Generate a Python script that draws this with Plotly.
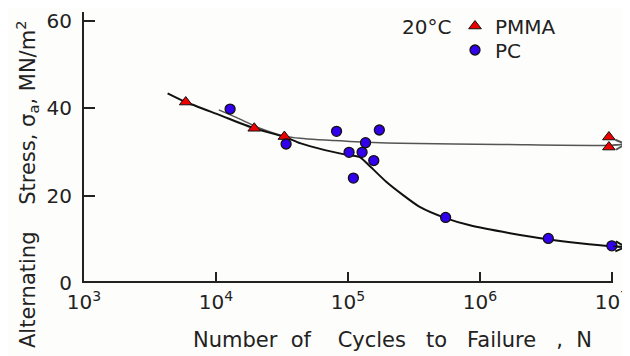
import plotly.graph_objects as go
import math

# ---- data ----
PMMA_N = [5.9e3, 1.95e4, 3.3e4, 9.5e6, 9.5e6]
PMMA_S = [41.4, 35.4, 33.5, 33.4, 31.1]

PC_N = [1.28e4, 3.4e4, 8.2e4, 1.02e5, 1.10e5, 1.28e5, 1.36e5, 1.57e5, 1.73e5, 5.5e5, 3.3e6, 1.0e7]
PC_S = [39.8, 31.8, 34.7, 29.9, 24.0, 29.9, 32.1, 28.0, 35.0, 15.0, 10.2, 8.5]

PC_CURVE_N = [4.3e3, 5.9e3, 1.07e4, 1.94e4, 3.33e4, 4.33e4, 6.7e4, 1.035e5, 1.23e5, 1.47e5,
              1.96e5, 2.62e5, 3.5e5, 5.43e5, 8.4e5, 1.69e6, 3.27e6, 5.73e6, 1.0e7, 1.32e7]
PC_CURVE_S = [43.4, 41.4, 38.4, 35.4, 33.4, 32.0, 30.4, 29.2, 28.8, 26.7,
              23.1, 20.1, 17.4, 14.9, 13.2, 11.4, 10.0, 9.1, 8.4, 8.2]

PMMA_CURVE_N = [1.05e4, 1.52e4, 2.15e4, 3.33e4, 4.33e4, 1.035e5, 2.48e5, 1.42e6, 1.0e7, 1.32e7]
PMMA_CURVE_S = [39.6, 37.5, 35.4, 33.6, 33.1, 32.4, 32.0, 31.7, 31.5, 31.8]

X_TICKS = [1e3, 1e4, 1e5, 1e6, 1e7]
X_TICK_TEXT = ["10<sup>3</sup>", "10<sup>4</sup>", "10<sup>5</sup>", "10<sup>6</sup>", "10<sup>7</sup>"]
Y_TICKS = [0, 20, 40, 60]

FONT = "DejaVu Sans"
INK = "#222222"
NB = "\u00a0"

# page body has an 8px offset, so the figure is 8px smaller and margins shifted
L, T, B, R = 76, 4, 73, 1
PW = 545.0   # plot width in px
PH = 271.0   # plot height in px
X0, Y0 = 84.0, 283.0  # page position of plot's left / bottom edge

def px(xp):
    return (xp - X0) / PW

def py(yp):
    return (Y0 - yp) / PH

fig = go.Figure()

# bottom axis line, spanning 10^3 .. 10^7 only (half of it is clipped at the plot edge)
fig.add_trace(go.Scatter(x=[X_TICKS[0], X_TICKS[-1]], y=[Y_TICKS[0], Y_TICKS[0]], mode="lines",
                         line=dict(color=INK, width=4), showlegend=False, hoverinfo="skip"))

fig.add_trace(go.Scatter(x=PMMA_CURVE_N, y=PMMA_CURVE_S, mode="lines",
                         line=dict(color="#555555", width=1.5, shape="spline", smoothing=0.8),
                         showlegend=False, hoverinfo="skip"))
fig.add_trace(go.Scatter(x=PC_CURVE_N, y=PC_CURVE_S, mode="lines",
                         line=dict(color="#111111", width=2, shape="spline", smoothing=0.6),
                         showlegend=False, hoverinfo="skip"))

fig.add_trace(go.Scatter(x=PMMA_N, y=PMMA_S, mode="markers", name="PMMA", legend="legend",
                         marker=dict(symbol="triangle-up", size=11, color="#ee0000",
                                     line=dict(color="#111111", width=1))))
fig.add_trace(go.Scatter(x=PC_N, y=PC_S, mode="markers", name="PC", legend="legend2",
                         marker=dict(symbol="circle", size=10, color="#3300ee",
                                     line=dict(color="#111111", width=1.3))))

# arrow heads at the curve ends
for cx, cy, col, tilt in [(PC_CURVE_N, PC_CURVE_S, "#111111", -1), (PMMA_CURVE_N, PMMA_CURVE_S, "#555555", 1)]:
    fig.add_annotation(x=math.log10(cx[-1]), y=cy[-1], ax=-16, ay=tilt,
                       xref="x", yref="y", text="",
                       showarrow=True, arrowhead=5, arrowsize=1.4, arrowwidth=1.4, arrowcolor=col)

fig.add_annotation(text="20°C", x=px(426), y=py(26.5), xref="paper", yref="paper",
                   xanchor="center", yanchor="middle",
                   showarrow=False, font=dict(family=FONT, size=20, color=INK))

xtitle = ("Number" + NB * 2 + "of" + NB * 4 + "Cycles" + NB * 3 + "to" + NB * 3 +
          "Failure" + NB * 3 + "," + NB * 2 + "N")
fig.add_annotation(text=xtitle, x=px(392), y=py(340), xref="paper", yref="paper",
                   xanchor="center", yanchor="middle", showarrow=False,
                   font=dict(family=FONT, size=21, color=INK))

ytitle = "Alternating" + NB * 4 + "Stress," + NB + "σ<sub>a</sub>," + NB + "MN/m<sup>2</sup>"
fig.add_annotation(text=ytitle, x=px(10), y=py(184), xref="paper", yref="paper",
                   xanchor="left", yanchor="middle", showarrow=False,
                   textangle=-90, font=dict(family=FONT, size=21, color=INK))

legend_common = dict(xanchor="left", yanchor="middle", bgcolor="rgba(0,0,0,0)",
                     font=dict(family=FONT, size=20, color=INK), itemwidth=30)

fig.update_layout(
    width=L + int(PW) + R, height=T + int(PH) + B,
    margin=dict(l=L, r=R, t=T, b=B, autoexpand=False),
    paper_bgcolor="#fdfdfb", plot_bgcolor="#fdfdfb",
    font=dict(family=FONT, size=20, color=INK),
    legend=dict(x=px(455), y=py(26), **legend_common),
    legend2=dict(x=px(455), y=py(50), **legend_common),
    xaxis=dict(type="log", range=[3, 7.13], tickvals=X_TICKS, ticktext=X_TICK_TEXT,
               ticks="inside", ticklen=11, tickwidth=2, tickcolor=INK, automargin=False,
               showline=False, showgrid=False, zeroline=False,
               ticklabelstandoff=5,
               tickfont=dict(family=FONT, size=20, color=INK)),
    yaxis=dict(range=[0, 62], tickvals=Y_TICKS, ticks="inside", ticklen=11, tickwidth=2,
               tickcolor=INK, showline=True, linewidth=2, linecolor=INK, showgrid=False,
               zeroline=False, ticklabelstandoff=6, automargin=False,
               tickfont=dict(family=FONT, size=20, color=INK)),
)

fig.write_html("out.html")
